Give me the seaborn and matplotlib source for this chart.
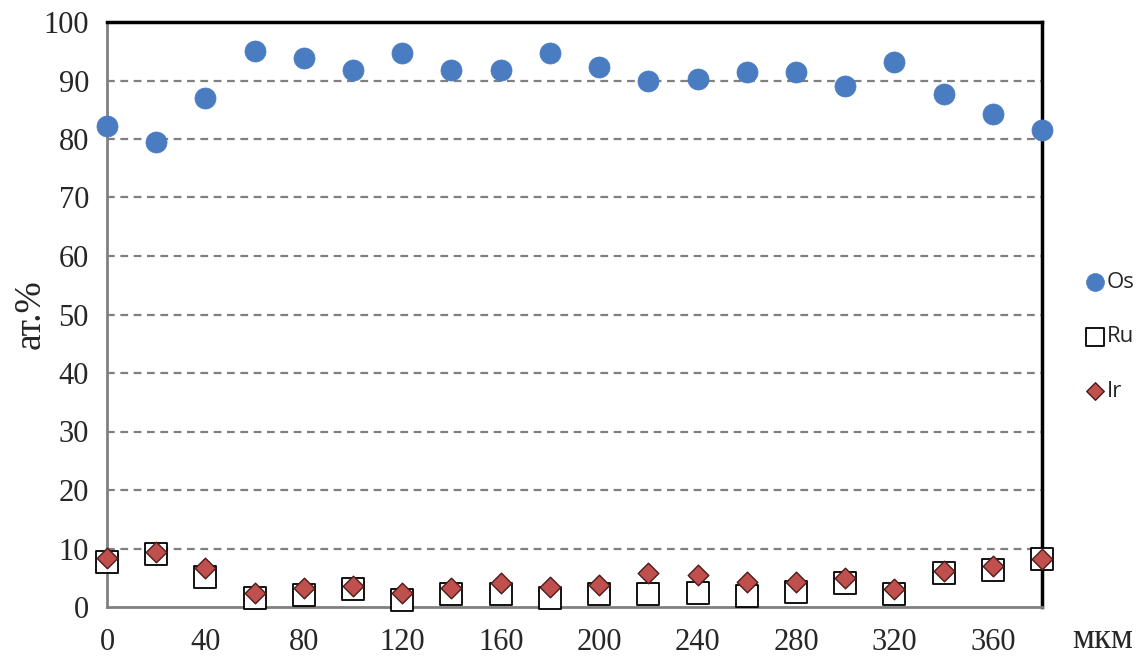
import matplotlib
matplotlib.use("Agg")
import matplotlib.pyplot as plt
import seaborn as sns
import pandas as pd

# Distance along the profile, мкм
distance = [0, 20, 40, 60, 80, 100, 120, 140, 160, 180, 200,
            220, 240, 260, 280, 300, 320, 340, 360, 380]
# Composition, ат.%
os_vals = [82.3, 79.5, 87.0, 95.0, 93.8, 91.8, 94.7, 91.8, 91.8, 94.7, 92.3,
           89.9, 90.2, 91.5, 91.5, 89.0, 93.1, 87.7, 84.2, 81.6]
ru_vals = [7.7, 9.0, 5.1, 1.5, 2.0, 3.1, 1.2, 2.2, 2.2, 1.5, 2.2,
           2.2, 2.4, 1.9, 2.6, 4.1, 2.2, 5.8, 6.3, 8.2]
ir_vals = [8.3, 9.4, 6.6, 2.4, 3.2, 3.6, 2.4, 3.2, 4.1, 3.4, 3.7,
           5.8, 5.5, 4.3, 4.3, 5.0, 3.0, 6.2, 7.0, 8.2]

x_ticks = list(range(0, 361, 40))
y_ticks = list(range(0, 101, 10))

df = pd.DataFrame({"x": distance, "Os": os_vals, "Ru": ru_vals, "Ir": ir_vals})

sns.set_theme(style="white")
plt.rcParams["font.family"] = ["Liberation Serif", "DejaVu Serif"]

fig = plt.figure(figsize=(11.44, 6.59), dpi=100)
ax = fig.add_axes([107 / 1144, 1 - 607 / 659, (1042 - 107) / 1144, (607 - 22) / 659])

grey = "#808080"
for yv in y_ticks[1:-1]:
    ax.axhline(yv, color=grey, lw=1.6, ls=(0, (3.5, 2.5)), zorder=0)

sns.scatterplot(data=df, x="x", y="Ru", ax=ax, marker="s", s=240,
                facecolor="white", edgecolor="black", linewidth=1.3,
                label="Ru", zorder=3, clip_on=False)
sns.scatterplot(data=df, x="x", y="Ir", ax=ax, marker="D", s=110,
                color="#c0504d", edgecolor="#4a1c1b", linewidth=1.0,
                label="Ir", zorder=4, clip_on=False)
sns.scatterplot(data=df, x="x", y="Os", ax=ax, marker="o", s=230,
                color="#4a7cc2", edgecolor="#4a7cc2", linewidth=0.5,
                label="Os", zorder=5, clip_on=False)

ax.set_xlim(0, 380)
ax.set_ylim(0, 100)
ax.set_xticks(x_ticks)
ax.set_yticks(y_ticks)
ax.tick_params(axis="both", which="major", labelsize=22, length=7, width=1.5,
               color=grey, direction="out", pad=6)
ax.tick_params(axis="x", pad=8)
ax.set_xlabel("")
ax.set_ylabel("ат.%", fontsize=27, labelpad=-3)

for side in ("left", "bottom"):
    ax.spines[side].set_color(grey)
    ax.spines[side].set_linewidth(2.0)
for side in ("top", "right"):
    ax.spines[side].set_color("black")
    ax.spines[side].set_linewidth(2.5)
for sp in ax.spines.values():
    sp.set_zorder(2)

fig.text(1103 / 1144, 1 - 640 / 659, "мкм", fontsize=25, ha="center", va="center")

handles, labels = ax.get_legend_handles_labels()
order = [labels.index(n) for n in ("Os", "Ru", "Ir")]
ax.get_legend().remove()
leg = fig.legend([handles[i] for i in order], [labels[i] for i in order],
                 loc="center left", bbox_to_anchor=(1062 / 1144, 1 - 337 / 659),
                 frameon=False, handletextpad=-0.1, labelspacing=1.5,
                 handlelength=1.2, markerscale=0.85,
                 prop={"family": "Open Sans", "size": 16})

fig.savefig("out.png", dpi=100, facecolor="white")
